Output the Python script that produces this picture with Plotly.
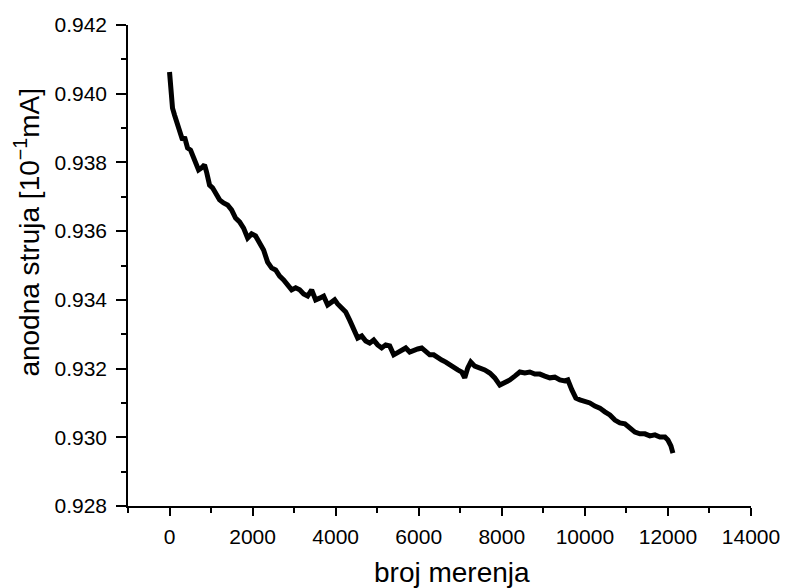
import plotly.graph_objects as go

broj = [0, 24, 48, 72, 120, 169, 241, 313, 361, 434, 506, 578, 651, 699, 771, 843, 892, 964,
        1036, 1133, 1205, 1301, 1398, 1494, 1590, 1687, 1783, 1880, 1976, 2072, 2169, 2265,
        2361, 2458, 2554, 2651, 2747, 2843, 2940, 3036, 3133, 3229, 3325, 3422, 3518, 3614,
        3711, 3807, 3904, 3976, 4048, 4145, 4241, 4337, 4434, 4530, 4627, 4723, 4819, 4916,
        5012, 5108, 5205, 5301, 5398, 5494, 5590, 5687, 5783, 5880, 5976, 6072, 6169, 6265,
        6361, 6458, 6554, 6651, 6747, 6843, 6940, 7036, 7108, 7181, 7253, 7349, 7470, 7590,
        7711, 7831, 7952, 8072, 8193, 8313, 8434, 8554, 8675, 8795, 8916, 9036, 9157, 9277,
        9398, 9518, 9590, 9687, 9783, 9880, 10000, 10120, 10241, 10361, 10482, 10602, 10723,
        10843, 10964, 11084, 11205, 11325, 11446, 11566, 11687, 11807, 11928, 12000, 12072, 12120]

struja = [0.94063, 0.94025, 0.93996, 0.93958, 0.93938, 0.93918, 0.93900, 0.93865, 0.93874,
          0.93842, 0.93836, 0.93813, 0.93798, 0.93778, 0.93784, 0.93793, 0.93772, 0.93734,
          0.93726, 0.93705, 0.93691, 0.93682, 0.93676, 0.93662, 0.93638, 0.93627, 0.93609,
          0.93580, 0.93592, 0.93586, 0.93566, 0.93545, 0.93510, 0.93493, 0.93487, 0.93469,
          0.93458, 0.93443, 0.93429, 0.93435, 0.93429, 0.93417, 0.93411, 0.93429, 0.93400,
          0.93405, 0.93411, 0.93385, 0.93394, 0.93400, 0.93388, 0.93376, 0.93365, 0.93341,
          0.93312, 0.93289, 0.93295, 0.93280, 0.93274, 0.93283, 0.93269, 0.93260, 0.93269,
          0.93266, 0.93240, 0.93248, 0.93254, 0.93260, 0.93248, 0.93254, 0.93257, 0.93260,
          0.93248, 0.93240, 0.93240, 0.93231, 0.93225, 0.93219, 0.93210, 0.93202, 0.93196,
          0.93190, 0.93173, 0.93202, 0.93219, 0.93207, 0.93202, 0.93196, 0.93187, 0.93173,
          0.93152, 0.93158, 0.93167, 0.93178, 0.93190, 0.93187, 0.93190, 0.93184, 0.93184,
          0.93178, 0.93173, 0.93175, 0.93167, 0.93164, 0.93167, 0.93138, 0.93114, 0.93109,
          0.93106, 0.93100, 0.93091, 0.93085, 0.93074, 0.93065, 0.93050, 0.93042, 0.93039,
          0.93027, 0.93015, 0.93010, 0.93010, 0.93004, 0.93007, 0.93001, 0.93001, 0.92992,
          0.92975, 0.92954]

x_ticks = [0, 2000, 4000, 6000, 8000, 10000, 12000, 14000]
y_ticks = [0.928, 0.930, 0.932, 0.934, 0.936, 0.938, 0.940, 0.942]
y_labels = ["%.3f" % v for v in y_ticks]

FONT = "Liberation Sans, Arial, sans-serif"

fig = go.Figure()
fig.add_trace(go.Scatter(x=broj, y=struja, mode="lines",
                         line=dict(color="black", width=5), showlegend=False))

fig.update_layout(
    width=786, height=588,
    margin=dict(l=128, r=35, t=25, b=82, autoexpand=False),
    paper_bgcolor="white", plot_bgcolor="white",
    font=dict(family=FONT, color="black", size=21),
    xaxis=dict(range=[-1000, 14000], tickvals=x_ticks, ticktext=[str(v) for v in x_ticks],
               showgrid=False, zeroline=False, showline=True, linecolor="black", linewidth=1.5,
               ticks="outside", ticklen=8, tickwidth=1.5, tickcolor="black",
               tickfont=dict(size=21, family=FONT), ticklabelstandoff=3,
               minor=dict(dtick=1000, tick0=-1000, ticks="outside", ticklen=5,
                          tickwidth=1.5, tickcolor="black", showgrid=False)),
    yaxis=dict(range=[0.928, 0.942], tickvals=y_ticks, ticktext=y_labels,
               showgrid=False, zeroline=False, showline=True, linecolor="black", linewidth=1.5,
               ticks="outside", ticklen=10, tickwidth=1.5, tickcolor="black",
               tickfont=dict(size=21, family=FONT), ticklabelstandoff=5,
               minor=dict(dtick=0.001, tick0=0.928, ticks="outside", ticklen=5,
                          tickwidth=1.5, tickcolor="black", showgrid=False)),
    annotations=[
        dict(text="broj merenja", xref="paper", yref="paper", x=0.52, y=-0.139,
             xanchor="center", yanchor="middle", showarrow=False,
             font=dict(size=28, family=FONT, color="black")),
        dict(text="anodna struja [10<sup>\u22121</sup>mA]", xref="paper", yref="paper",
             x=-0.1625, y=0.57, xanchor="center", yanchor="middle", textangle=-90,
             showarrow=False, font=dict(size=28, family=FONT, color="black")),
    ],
)

fig.write_html("out.html", config={"displayModeBar": False},
               post_script="document.body.style.margin='0';document.body.style.overflow='hidden';")
